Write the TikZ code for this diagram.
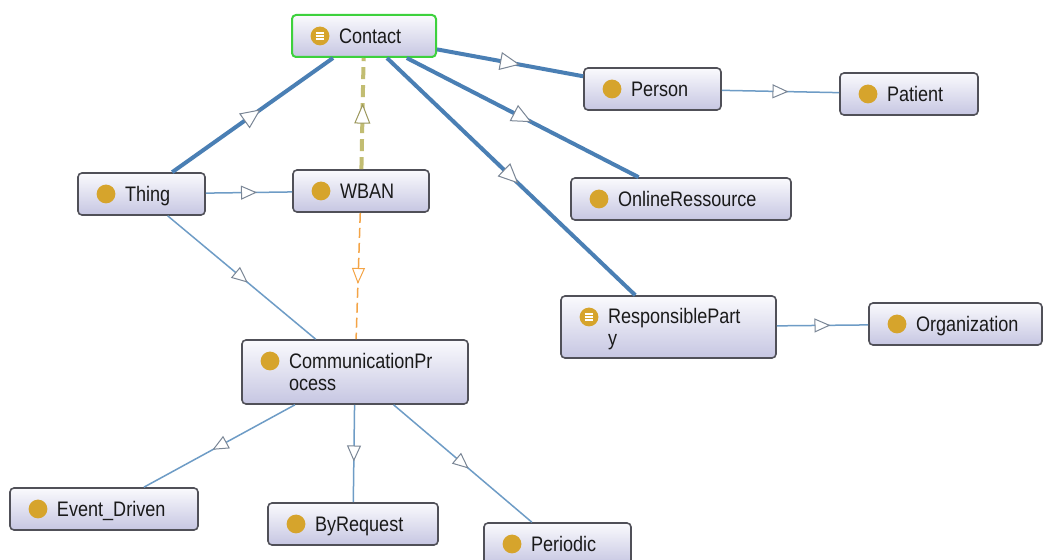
\documentclass[tikz,border=0pt]{standalone}
\usepackage{fontspec}
\setmainfont{Liberation Sans}[FakeStretch=0.86]
\usepackage{tikz}
\usetikzlibrary{arrows.meta,decorations.markings}

\definecolor{clstop}{HTML}{FAFAFD}
\definecolor{clsbot}{HTML}{C6C6E2}
\definecolor{clsline}{HTML}{505058}
\definecolor{clstext}{HTML}{1A1A1A}
\definecolor{icongold}{HTML}{D6A42C}
\definecolor{selgreen}{HTML}{3DD13D}
\definecolor{thickblue}{HTML}{4A7FB4}
\definecolor{thinblue}{HTML}{6E9CC6}
\definecolor{tipgray}{HTML}{7A8696}
\definecolor{olivedash}{HTML}{C2BD72}
\definecolor{orangedash}{HTML}{F4A446}

\newcommand{\clsind}{\hspace*{23.5pt}}

\tikzset{
  icon/.style={path picture={
      \fill[icongold] ([shift={(14pt,-10.5pt)}]path picture bounding box.north west) circle (4.7pt);}},
  eqicon/.style={path picture={
      \coordinate (ic) at ([shift={(14pt,-10.5pt)}]path picture bounding box.north west);
      \fill[icongold] (ic) circle (4.7pt);
      \foreach \dy in {-1.5pt,0pt,1.5pt}
        \draw[white, line width=0.7pt] ([shift={(-2.2pt,\dy)}]ic) -- ++(4.4pt,0);}},
  cls/.style 2 args={draw=clsline, line width=0.8pt, rounded corners=2pt,
    top color=clstop, bottom color=clsbot, inner sep=0pt,
    text width=#1, minimum width=#1, minimum height=#2, text depth=0pt,
    align=left, text=clstext, font=\fontsize{10.5pt}{11pt}\selectfont},
  twoline/.style={text depth=11pt},
  isa/.style={draw=thinblue, line width=0.75pt, postaction=decorate,
    decoration={markings, mark=at position 0.5 with
      {\arrow[xshift=4pt]{Triangle[length=8pt,width=7pt,fill=white,color=tipgray,line width=0.5pt]}}}},
  thickisa/.style={draw=thickblue, line width=2pt, postaction=decorate,
    decoration={markings, mark=at position 0.5 with
      {\arrow[xshift=5pt]{Triangle[length=10pt,width=9pt,fill=white,color=tipgray,line width=0.5pt]}}}},
  oliveisa/.style={draw=olivedash, line width=2pt, dash pattern=on 6pt off 3pt, postaction=decorate,
    decoration={markings, mark=at position 0.5 with
      {\arrow[xshift=5pt]{Triangle[length=10pt,width=8pt,fill=white,color=olivedash!80!black,line width=0.5pt]}}}},
  orangeisa/.style={draw=orangedash, line width=0.75pt, dash pattern=on 5pt off 2.5pt, postaction=decorate,
    decoration={markings, mark=at position 0.5 with
      {\arrow[xshift=4pt]{Triangle[length=8pt,width=6.5pt,fill=white,color=orangedash,line width=0.5pt]}}}}
}

\begin{document}
\begin{tikzpicture}[x=0.5pt, y=-0.5pt]
  \clip (0,0) rectangle (1044,560);
  \fill[white] (0,0) rectangle (1044,560);

  % classes
  \node[cls={72pt}{21pt}, eqicon, draw=selgreen, line width=1pt] (contact) at (364,36) {\clsind Contact};
  \node[cls={68.5pt}{21pt}, icon] (person) at (652.5,89) {\clsind Person};
  \node[cls={69pt}{21pt}, icon] (patient) at (909,94) {\clsind Patient};
  \node[cls={63.5pt}{21pt}, icon] (thing) at (141.5,194) {\clsind Thing};
  \node[cls={68pt}{21pt}, icon] (wban) at (361,191) {\clsind WBAN};
  \node[cls={110pt}{21pt}, icon] (online) at (681,199) {\clsind OnlineRessource};
  \node[cls={107.5pt}{31pt}, twoline, eqicon] (resp) at (668.5,327) {\clsind ResponsiblePart\\\clsind y};
  \node[cls={86.5pt}{21pt}, icon] (org) at (955.5,324) {\clsind Organization};
  \node[cls={113pt}{32pt}, twoline, icon] (comm) at (355,372) {\clsind CommunicationPr\\\clsind ocess};
  \node[cls={94pt}{21pt}, icon] (event) at (104,509) {\clsind Event\_Driven};
  \node[cls={85pt}{21pt}, icon] (byreq) at (353,524) {\clsind ByRequest};
  \node[cls={73.5pt}{21pt}, icon] (periodic) at (557.5,544) {\clsind Periodic};

  % subclass links
  \draw[thickisa] (thing) -- (contact);
  \draw[thickisa] (contact) -- (person);
  \draw[thickisa] (contact) -- (online);
  \draw[thickisa] (contact) -- (resp);
  \draw[oliveisa] (wban) -- (contact);
  \draw[isa] (thing) -- (wban);
  \draw[isa] (thing) -- (comm);
  \draw[orangeisa] (wban) -- (comm);
  \draw[isa] (person) -- (patient);
  \draw[isa] (resp) -- (org);
  \draw[isa] (comm) -- (event);
  \draw[isa] (comm) -- (byreq);
  \draw[isa] (comm) -- (periodic);
\end{tikzpicture}
\end{document}
